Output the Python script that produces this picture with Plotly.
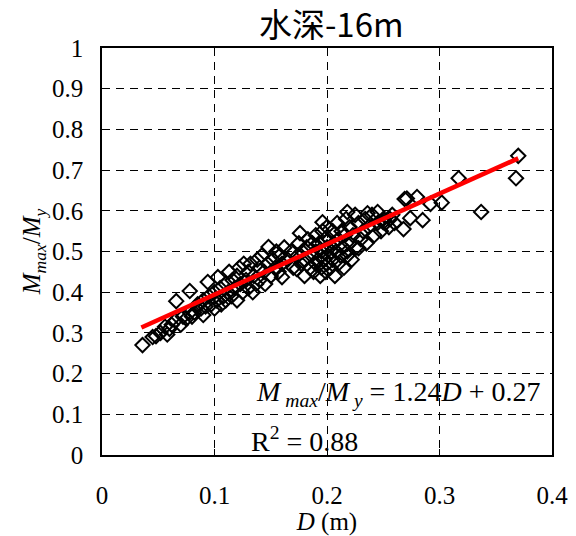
import plotly.graph_objects as go

# Scatter data: D (m) and Mmax/My
d_vals = [
    0.036, 0.045, 0.048, 0.052, 0.056, 0.058, 0.060, 0.062, 0.065, 0.066, 0.070, 0.072, 0.075, 0.078, 0.078, 0.080,
    0.082, 0.085, 0.088, 0.090, 0.090, 0.092, 0.094, 0.095, 0.097, 0.100, 0.100, 0.102, 0.103, 0.105, 0.106, 0.108,
    0.110, 0.110, 0.112, 0.113, 0.115, 0.116, 0.118, 0.120, 0.120, 0.122, 0.123, 0.125, 0.126, 0.128, 0.130, 0.130,
    0.132, 0.134, 0.135, 0.137, 0.138, 0.140, 0.140, 0.142, 0.144, 0.145, 0.147, 0.148, 0.150, 0.152, 0.154, 0.155,
    0.157, 0.158, 0.160, 0.160, 0.162,
    0.165, 0.168, 0.170, 0.173, 0.174, 0.175, 0.176, 0.177, 0.178, 0.180, 0.180, 0.182, 0.183, 0.185, 0.186, 0.187,
    0.188, 0.190, 0.190, 0.190, 0.192, 0.193, 0.194, 0.195, 0.195, 0.196, 0.196, 0.197, 0.198, 0.199, 0.200, 0.200,
    0.200, 0.201, 0.202, 0.203, 0.204, 0.205, 0.205, 0.206, 0.207, 0.208, 0.209, 0.210, 0.210, 0.212, 0.213, 0.214,
    0.215, 0.216, 0.217, 0.218, 0.218, 0.218, 0.220, 0.220, 0.222, 0.223, 0.225, 0.226, 0.228, 0.228, 0.230, 0.232,
    0.234, 0.235, 0.236, 0.237, 0.240, 0.242, 0.245, 0.245, 0.248, 0.250, 0.250, 0.252, 0.255, 0.256, 0.258, 0.260,
    0.268, 0.269, 0.271, 0.274, 0.280, 0.285, 0.292, 0.302, 0.317, 0.337, 0.368, 0.370,
]
m_vals = [
    0.270, 0.290, 0.292, 0.300, 0.315, 0.296, 0.310, 0.320, 0.330, 0.378, 0.320, 0.340, 0.335, 0.350, 0.403, 0.340,
    0.350, 0.370, 0.360, 0.344, 0.380, 0.365, 0.425, 0.390, 0.370, 0.360, 0.400, 0.380, 0.437, 0.410, 0.370, 0.390,
    0.380, 0.420, 0.400, 0.450, 0.390, 0.430, 0.410, 0.380, 0.440, 0.460, 0.420, 0.400, 0.470, 0.430, 0.410, 0.450,
    0.470, 0.400, 0.440, 0.420, 0.480, 0.430, 0.460, 0.490, 0.450, 0.420, 0.470, 0.511, 0.440, 0.480, 0.460, 0.500,
    0.450, 0.490, 0.437, 0.470, 0.510,
    0.480, 0.500, 0.460, 0.457, 0.490, 0.520, 0.545, 0.470, 0.500, 0.440, 0.480, 0.510, 0.530, 0.460, 0.490, 0.520,
    0.450, 0.470, 0.500, 0.540, 0.480, 0.520, 0.440, 0.460, 0.500, 0.550, 0.572, 0.480, 0.530, 0.450, 0.470, 0.510,
    0.560, 0.490, 0.530, 0.460, 0.500, 0.480, 0.550, 0.520, 0.440, 0.500, 0.570, 0.470, 0.530, 0.490, 0.550, 0.510,
    0.460, 0.540, 0.580, 0.500, 0.597, 0.490, 0.520, 0.560, 0.480, 0.540, 0.590, 0.510, 0.570, 0.508, 0.530, 0.550,
    0.580, 0.520, 0.594, 0.560, 0.590, 0.540, 0.570, 0.597, 0.550, 0.580, 0.572, 0.570, 0.560, 0.580, 0.590, 0.570,
    0.555, 0.629, 0.630, 0.582, 0.634, 0.577, 0.617, 0.620, 0.680, 0.597, 0.680, 0.735,
]

# Fitted trend line
fit_slope = 1.24
fit_intercept = 0.27
fit_x = [0.035, 0.370]
fit_y = [fit_slope * x + fit_intercept for x in fit_x]

x_ticks = [0, 0.1, 0.2, 0.3, 0.4]
x_ticktext = ["0", "0.1", "0.2", "0.3", "0.4"]
y_ticks = [0, 0.1, 0.2, 0.3, 0.4, 0.5, 0.6, 0.7, 0.8, 0.9, 1.0]
y_ticktext = ["0", "0.1", "0.2", "0.3", "0.4", "0.5", "0.6", "0.7", "0.8", "0.9", "1"]

serif = "Liberation Serif, Times New Roman, serif"

fig = go.Figure()
fig.add_trace(go.Scatter(
    x=d_vals, y=m_vals, mode="markers",
    marker=dict(symbol="diamond-open", size=11, color="black", line=dict(width=2, color="black")),
    showlegend=False,
))
fig.add_trace(go.Scatter(
    x=fit_x, y=fit_y, mode="lines",
    line=dict(color="#ff0000", width=4.5),
    showlegend=False,
))

fig.update_layout(
    width=576, height=536,
    margin=dict(l=102, r=24, t=48, b=81, autoexpand=False),
    paper_bgcolor="white", plot_bgcolor="white",
    title=dict(text="水深-16m", x=0.575, xanchor="center", y=0.953, yanchor="middle",
               font=dict(family="Noto Sans CJK SC, Arial, sans-serif", size=33, color="black")),
    font=dict(family=serif, color="black"),
)
fig.update_xaxes(
    range=[0, 0.4], tickvals=x_ticks, ticktext=x_ticktext, automargin=False,
    tickfont=dict(family=serif, size=25, color="black"),
    ticklabelstandoff=17,
    showgrid=True, gridcolor="black", griddash="8px,6px", gridwidth=1,
    showline=True, linecolor="black", linewidth=1.5, mirror="ticks",
    ticks="inside", ticklen=6, tickcolor="black",
    zeroline=False,
    title=dict(text="<i>D</i> (m)", font=dict(family=serif, size=25, color="black"), standoff=4),
)
fig.update_yaxes(
    range=[0, 1], tickvals=y_ticks, ticktext=y_ticktext, automargin=False,
    tickfont=dict(family=serif, size=25, color="black"),
    ticklabelstandoff=12,
    showgrid=True, gridcolor="black", griddash="8px,6px", gridwidth=1,
    showline=True, linecolor="black", linewidth=1.5, mirror=True,
    ticks="", zeroline=False,
    title=dict(text="<i>M<sub>max</sub></i>/<i>M<sub>y</sub></i>", font=dict(family=serif, size=25, color="black"), standoff=4),
)

fig.add_annotation(
    x=0.978, y=0.152, xref="paper", yref="paper", xanchor="right", yanchor="middle",
    text="<i>M</i><sub> <i>max</i></sub>/<i>M</i><sub> <i>y</i></sub> = 1.24<i>D</i> + 0.27",
    showarrow=False, font=dict(family=serif, size=28, color="black"),
)
fig.add_annotation(
    x=0.326, y=0.038, xref="paper", yref="paper", xanchor="left", yanchor="middle",
    text="R<sup>2</sup> = 0.88",
    showarrow=False, font=dict(family=serif, size=28, color="black"),
)

fig.write_html("out.html")
